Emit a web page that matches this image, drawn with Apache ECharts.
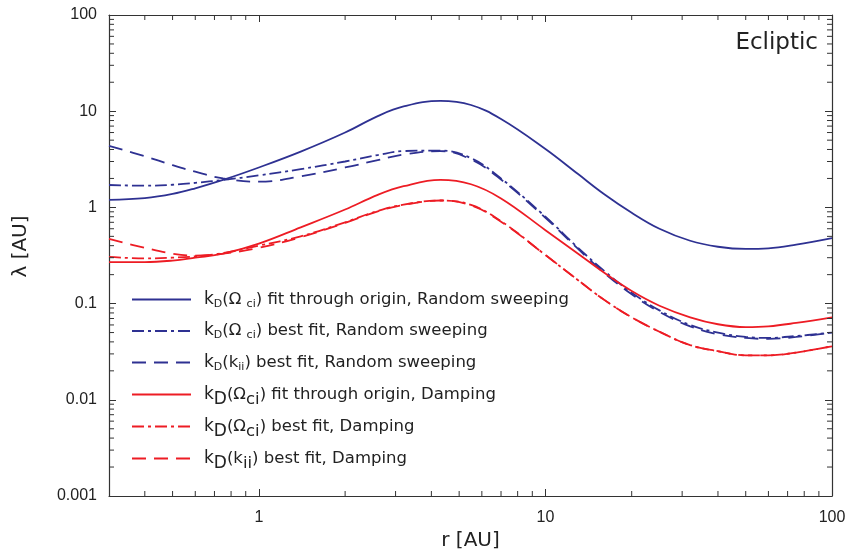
<!DOCTYPE html>
<html>
<head>
<meta charset="utf-8">
<script src="https://cdn.jsdelivr.net/npm/echarts@6/dist/echarts.min.js"></script>
<style>html,body{margin:0;padding:0;background:#fff}#c{width:849px;height:550px}</style>
</head>
<body>
<div id="c"></div>
<script>
// r [AU]
const rValues = [0.3, 0.4, 0.5, 0.6, 0.75, 1, 1.4, 2, 2.6, 3.2, 4.3, 5.5, 7, 10, 13, 16, 20, 25, 32, 40, 50, 60, 75, 100];
// lambda [AU]
const rsOrigin   = [1.2, 1.25, 1.38, 1.58, 1.93, 2.6, 3.8, 6.0, 8.9, 11.2, 12.8, 11.6, 8.3, 4.05, 2.22, 1.38, 0.88, 0.6, 0.45, 0.39, 0.37, 0.375, 0.41, 0.48];
const rsBestOmega= [1.71, 1.68, 1.72, 1.8, 1.93, 2.15, 2.5, 3.0, 3.5, 3.85, 3.9, 3.25, 2.0, 0.8, 0.38, 0.22, 0.13, 0.085, 0.06, 0.05, 0.045, 0.044, 0.046, 0.05];
const rsBestKii  = [4.36, 3.4, 2.75, 2.35, 2.0, 1.85, 2.1, 2.6, 3.1, 3.55, 3.85, 3.15, 1.95, 0.78, 0.37, 0.21, 0.125, 0.082, 0.058, 0.048, 0.044, 0.043, 0.045, 0.05];
const dpOrigin   = [0.27, 0.27, 0.28, 0.3, 0.33, 0.42, 0.62, 0.95, 1.35, 1.66, 1.93, 1.74, 1.24, 0.58, 0.33, 0.21, 0.135, 0.095, 0.072, 0.061, 0.057, 0.058, 0.063, 0.072];
const dpBestOmega= [0.306, 0.295, 0.3, 0.31, 0.335, 0.4, 0.5, 0.7, 0.92, 1.07, 1.18, 1.06, 0.72, 0.32, 0.175, 0.11, 0.072, 0.051, 0.037, 0.032, 0.029, 0.029, 0.031, 0.036];
const dpBestKii  = [0.47, 0.38, 0.33, 0.315, 0.33, 0.38, 0.49, 0.69, 0.91, 1.06, 1.18, 1.05, 0.71, 0.32, 0.175, 0.11, 0.072, 0.051, 0.037, 0.032, 0.029, 0.029, 0.031, 0.036];

const rsNames = ['rsOrigin','rsBestOmega','rsBestKii'];
const dpNames = ['dpOrigin','dpBestOmega','dpBestKii'];
const xMinorTicks = [0.4,0.5,0.6,0.7,0.8,0.9,2,3,4,5,6,7,8,9,20,30,40,50,60,70,80,90];
const yMinorTicks = [0.002,0.003,0.004,0.005,0.006,0.007,0.008,0.009,0.02,0.03,0.04,0.05,0.06,0.07,0.08,0.09,0.2,0.3,0.4,0.5,0.6,0.7,0.8,0.9,2,3,4,5,6,7,8,9,20,30,40,50,60,70,80,90];

const BLUE = '#2E3192', RED = '#ED1C24';
const FONT = 'Liberation Sans, Arial, sans-serif';
const WFONT = 'DejaVu Sans, sans-serif';

function pairs(ys){ return rValues.map((r,i)=>[r, ys[i]]); }
function isPow10(v){ const l = Math.log10(v); return Math.abs(l - Math.round(l)) < 1e-6; }
function fmt(v){ if(!isPow10(v)) return ''; const l = Math.round(Math.log10(v)); return l >= 0 ? String(Math.pow(10,l)) : (Math.pow(10,l)).toFixed(-l); }

const dashDot = [12, 4, 3, 4];
const dashed = [14, 8];

function lineSeries(name, ys, color, type){
  return { name, type:'line', data: pairs(ys), smooth: 0.4, showSymbol:false, symbol:'none',
    lineStyle:{ color, width: 1.8, type }, itemStyle:{color}, xAxisIndex:0, yAxisIndex:0, z:3 };
}

const labels = {
  rsOrigin:'{k|k}{s1|D}{t|(Ω }{s2|ci}{t|) fit through origin, Random sweeping}',
  rsBestOmega:'{k|k}{s1|D}{t|(Ω }{s2|ci}{t|) best fit, Random sweeping}',
  rsBestKii:'{k|k}{s1|D}{t|(k}{s2|ii}{t|) best fit, Random sweeping}',
  dpOrigin:'{k|k}{b1|D}{t|(Ω}{b2|ci}{t|) fit through origin, Damping}',
  dpBestOmega:'{k|k}{b1|D}{t|(Ω}{b2|ci}{t|) best fit, Damping}',
  dpBestKii:'{k|k}{b1|D}{t|(k}{b2|ii}{t|) best fit, Damping}'
};
const legendText = { fontFamily:WFONT, color:'#222', fontSize:16.5,
  rich:{
    k:{fontSize:17, fontFamily:WFONT, color:'#222', padding:[0,0,0,8], verticalAlign:'middle'},
    t:{fontSize:16.5, fontFamily:WFONT, color:'#222', verticalAlign:'middle'},
    s1:{fontSize:11, fontFamily:WFONT, color:'#222', verticalAlign:'middle', padding:[9,0,0,0]},
    s2:{fontSize:11, fontFamily:WFONT, color:'#222', verticalAlign:'middle', padding:[9,0,0,0]},
    b1:{fontSize:17, fontFamily:WFONT, color:'#222', verticalAlign:'middle', padding:[10,0,0,0]},
    b2:{fontSize:16.5, fontFamily:WFONT, color:'#222', verticalAlign:'middle', padding:[10,0,0,0]}
  }
};
function legendBlock(names, top, gap){
  return { orient:'vertical', left:126, top, itemWidth:59, itemHeight:14, itemGap:gap,
    itemStyle:{opacity:0}, data:names, formatter:n=>labels[n], textStyle:legendText };
}

const chart = echarts.init(document.getElementById('c'));
const grid = { left:109, right:17, top:15, bottom:54, outerBoundsMode:'none', containLabel:false };
const minorLen = 5;

const option = {
  animation:false,
  grid,
  xAxis:[
    { type:'log', min:0.3, max:100, logBase:10, position:'bottom',
      name:'r [AU]', nameLocation:'middle', nameGap:35, nameTextStyle:{fontSize:20, color:'#222', fontFamily:WFONT},
      axisLine:{lineStyle:{color:'#333', width:1.2}}, axisTick:{inside:true, length:7, lineStyle:{color:'#333'}},
      axisLabel:{formatter:fmt, fontSize:16, color:'#222', fontFamily:FONT, margin:14}, splitLine:{show:false}},
    { type:'log', min:0.3, max:100, logBase:10, position:'top',
      axisLine:{lineStyle:{color:'#333', width:1.2}}, axisTick:{inside:true, length:7, lineStyle:{color:'#333'}},
      axisLabel:{show:false}, splitLine:{show:false}}
  ],
  yAxis:[
    { type:'log', min:0.001, max:100, logBase:10, position:'left',
      name:'λ [AU]', nameLocation:'middle', nameGap:78, nameRotate:90,
      nameTextStyle:{fontSize:20, color:'#222', fontFamily:WFONT, padding:[0,0,0,18]},
      axisLine:{lineStyle:{color:'#333', width:1.2}}, axisTick:{inside:true, length:7, lineStyle:{color:'#333'}},
      axisLabel:{formatter:fmt, fontSize:16, color:'#222', fontFamily:FONT, margin:12}, splitLine:{show:false}},
    { type:'log', min:0.001, max:100, logBase:10, position:'right',
      axisLine:{lineStyle:{color:'#333', width:1.2}}, axisTick:{inside:true, length:7, lineStyle:{color:'#333'}},
      axisLabel:{show:false}, splitLine:{show:false}}
  ],
  title:{ text:'Ecliptic', right:26, top:27, textStyle:{fontSize:23, fontWeight:'normal', color:'#222', fontFamily:WFONT}},
  legend:[ legendBlock(rsNames, 286, 13), legendBlock(dpNames, 381, 10) ],
  series:[
    lineSeries('rsOrigin', rsOrigin, BLUE, 'solid'),
    lineSeries('rsBestOmega', rsBestOmega, BLUE, dashDot),
    lineSeries('rsBestKii', rsBestKii, BLUE, dashed),
    lineSeries('dpOrigin', dpOrigin, RED, 'solid'),
    lineSeries('dpBestOmega', dpBestOmega, RED, dashDot),
    lineSeries('dpBestKii', dpBestKii, RED, dashed),
    { type:'custom', name:'xminor', silent:true, clip:false, z:4,
      data: xMinorTicks.map(v=>[v,1]),
      renderItem:function(params, api){
        const cs = params.coordSys;
        const x = api.coord([api.value(0), 1])[0];
        const b = cs.y + cs.height, t = cs.y;
        return { type:'group', children:[
          {type:'line', shape:{x1:x,y1:b,x2:x,y2:b-minorLen}, style:{stroke:'#333', lineWidth:1}},
          {type:'line', shape:{x1:x,y1:t,x2:x,y2:t+minorLen}, style:{stroke:'#333', lineWidth:1}}
        ]};
      }},
    { type:'custom', name:'yminor', silent:true, clip:false, z:4,
      data: yMinorTicks.map(v=>[1,v]),
      renderItem:function(params, api){
        const cs = params.coordSys;
        const y = api.coord([1, api.value(1)])[1];
        const l = cs.x, r = cs.x + cs.width;
        return { type:'group', children:[
          {type:'line', shape:{x1:l,y1:y,x2:l+minorLen,y2:y}, style:{stroke:'#333', lineWidth:1}},
          {type:'line', shape:{x1:r,y1:y,x2:r-minorLen,y2:y}, style:{stroke:'#333', lineWidth:1}}
        ]};
      }}
  ]
};
chart.setOption(option);
</script>
</body>
</html>
